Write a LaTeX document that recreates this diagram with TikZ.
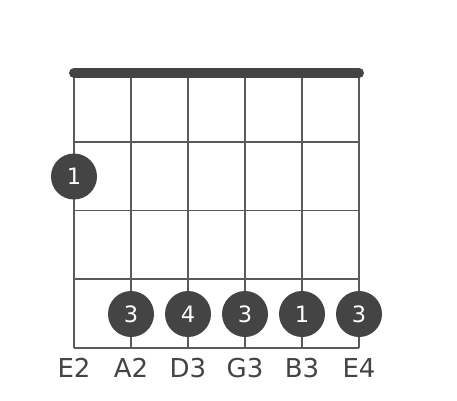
\documentclass[tikz,border=0pt]{standalone}
\usepackage{fontspec}
\setmainfont{DejaVu Sans}
\definecolor{dotgray}{HTML}{444444}
\definecolor{linegray}{HTML}{5A5A5A}
\tikzset{
  fretline/.style={draw=linegray, line width=1.6pt},
  fingerdot/.style={circle, fill=dotgray, inner sep=0pt, minimum size=46pt, text=white, font=\fontsize{22.5}{22.5}\selectfont},
  stringname/.style={text=dotgray, font=\fontsize{26}{26}\selectfont}
}
\begin{document}
\begin{tikzpicture}[x=1pt,y=-1pt]
\useasboundingbox (0,0) rectangle (457,400);
% strings and frets
\foreach \s in {0,...,5}
  \draw[fretline] (74+57*\s,73) -- (74+57*\s,348);
\foreach \f in {1,...,4}
  \draw[fretline] (74,73+68.75*\f) -- (359,73+68.75*\f);
% nut
\draw[dotgray, line width=10pt, line cap=round] (74,73) -- (359,73);
% fingers
\node[fingerdot] (e2) at (74,176.5) {1};
\node[fingerdot] (a2) at (131,314) {3};
\node[fingerdot] (d3) at (188,314) {4};
\node[fingerdot] (g3) at (245,314) {3};
\node[fingerdot] (b3) at (302,314) {1};
\node[fingerdot] (e4) at (359,314) {3};
% string names
\node[stringname] (le2) at (74,368) {E2};
\node[stringname] (la2) at (131,368) {A2};
\node[stringname] (ld3) at (188,368) {D3};
\node[stringname] (lg3) at (245,368) {G3};
\node[stringname] (lb3) at (302,368) {B3};
\node[stringname] (le4) at (359,368) {E4};
\end{tikzpicture}
\end{document}
